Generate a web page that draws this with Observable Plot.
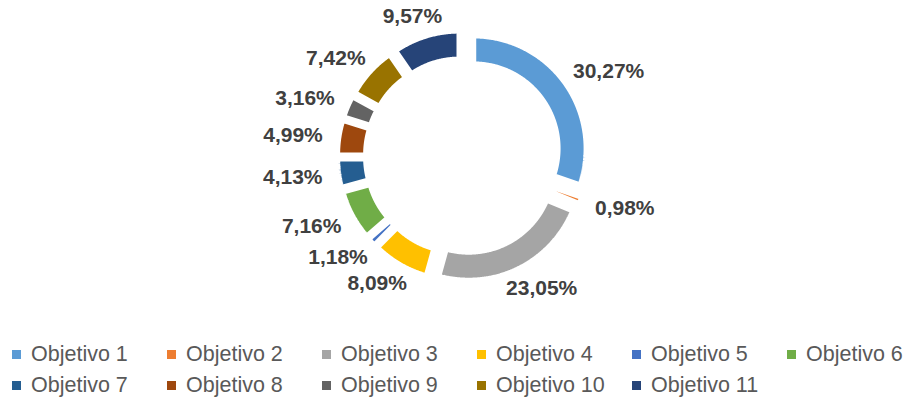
<!DOCTYPE html>
<html>
<head>
<meta charset="utf-8">
<script src="https://cdn.jsdelivr.net/npm/d3@7"></script>
<script src="https://cdn.jsdelivr.net/npm/@observablehq/plot@0.6"></script>
<style>
  html, body { margin: 0; padding: 0; background: #fff; }
  #chart { width: 907px; }
  .legend { width: 907px; padding-top: 4px; font-family: "Liberation Sans", Arial, sans-serif; font-size: 21.5px; color: #595959; overflow: visible; }
  .row { display: flex; height: 31px; align-items: center; }
  .item { width: 155px; flex: none; display: flex; align-items: center; white-space: nowrap; }
  .sw { width: 9px; height: 9px; margin-left: 12px; margin-right: 10px; flex: none; }
</style>
</head>
<body>
<div id="chart"></div>
<script>
// ---- data ----
const objetivos = ["Objetivo 1","Objetivo 2","Objetivo 3","Objetivo 4","Objetivo 5","Objetivo 6","Objetivo 7","Objetivo 8","Objetivo 9","Objetivo 10","Objetivo 11"];
const porcentajes = [30.27, 0.98, 23.05, 8.09, 1.18, 7.16, 4.13, 4.99, 3.16, 7.42, 9.57];
const colores = ["#5B9BD5","#ED7D31","#A5A5A5","#FFC000","#4472C4","#70AD47","#255E91","#9E480E","#636363","#997300","#264478"];

// ---- geometry / style ----
const W = 907, H = 335;
const CX = 463, CY = 156;
const GAP = 5.3;            // white border between slices
const R_OUT = 110 + GAP/2;  // visible outer radius 110
const R_IN = 87 - GAP/2;    // visible inner radius 87
const EXPLODE = 13;
const LABEL_GAP_X = 20, LABEL_GAP_Y = 14;
const FS = 21;

const locale = d3.formatLocale({decimal: ",", thousands: ".", grouping: [3], currency: ["", "€"]});
const fmt = v => locale.format(".2f")(v) + "%";

const arcs = d3.pie().sort(null).value(d => d)(porcentajes);

const ringPts = [];
const labels = [];
arcs.forEach((a, i) => {
  const mid = (a.startAngle + a.endAngle) / 2;
  const ox = EXPLODE * Math.sin(mid), oy = -EXPLODE * Math.cos(mid);
  const n = Math.max(2, Math.ceil((a.endAngle - a.startAngle) / (Math.PI / 360)));
  for (let k = 0; k <= n; k++) {
    const t = a.startAngle + (a.endAngle - a.startAngle) * k / n;
    ringPts.push({
      name: objetivos[i],
      x1: ox + R_IN * Math.sin(t), y1: oy - R_IN * Math.cos(t),
      x2: ox + R_OUT * Math.sin(t), y2: oy - R_OUT * Math.cos(t)
    });
  }
  const text = fmt(porcentajes[i]);
  const halfW = text.length * 0.56 * FS / 2;
  labels.push({
    text,
    x: (110 + EXPLODE + LABEL_GAP_X) * Math.sin(mid) + halfW * Math.sin(mid),
    y: -(110 + EXPLODE + LABEL_GAP_Y) * Math.cos(mid) - 10 * Math.cos(mid)
  });
});

const chart = Plot.plot({
  width: W, height: H,
  marginTop: 0, marginRight: 0, marginBottom: 0, marginLeft: 0,
  x: {domain: [-CX, W - CX], range: [0, W], axis: null},
  y: {domain: [-CY, H - CY], range: [0, H], axis: null},
  color: {domain: objetivos, range: colores},
  style: {background: "white"},
  marks: [
    Plot.area(ringPts, {x1: "x1", y1: "y1", x2: "x2", y2: "y2", z: "name", fill: "name",
      stroke: "white", strokeWidth: GAP, strokeLinejoin: "miter"}),
    Plot.text(labels, {x: "x", y: "y", text: "text", fill: "#404040", fontWeight: "bold",
      fontSize: FS, fontFamily: "'Liberation Sans', Arial, sans-serif"})
  ]
});
document.getElementById("chart").appendChild(chart);

// ---- legend ----
const legend = document.createElement("div");
legend.className = "legend";
const rows = [objetivos.slice(0, 6), objetivos.slice(6)];
rows.forEach(r => {
  const row = document.createElement("div");
  row.className = "row";
  r.forEach(name => {
    const it = document.createElement("div");
    it.className = "item";
    const sw = document.createElement("span");
    sw.className = "sw";
    sw.style.background = colores[objetivos.indexOf(name)];
    const tx = document.createElement("span");
    tx.textContent = name;
    it.appendChild(sw); it.appendChild(tx);
    row.appendChild(it);
  });
  legend.appendChild(row);
});
document.body.appendChild(legend);
</script>
</body>
</html>
